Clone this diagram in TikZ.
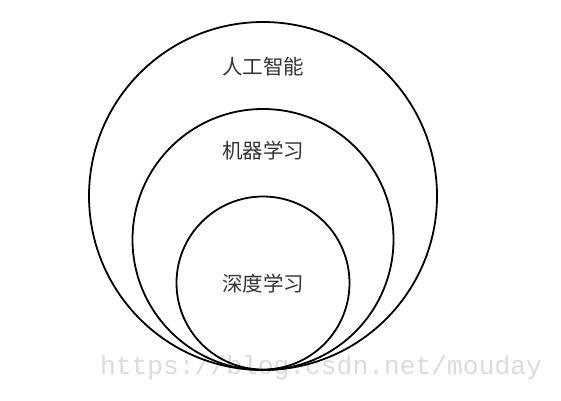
\documentclass[tikz,border=0pt]{standalone}
\usepackage{fontspec}
\newfontfamily\cjk{Noto Sans CJK SC}
\setmonofont{Liberation Mono}
\tikzset{
  ring/.style={draw, line width=1.8pt},
  area/.style={text=black!80, font=\cjk\fontsize{20.5}{20.5}\selectfont},
  watermark/.style={text=black!14, font=\ttfamily\fontsize{26.3}{26.3}\selectfont}
}
\begin{document}
\begin{tikzpicture}[x=1pt,y=-1pt]
\useasboundingbox (0,0) rectangle (561,400);

\node[watermark] (url) at (321,368) {https://blog.csdn.net/mouday};

\draw[ring] (263,196) circle [radius=174pt];
\draw[ring] (263,239.5) circle [radius=130.5pt];
\draw[ring] (263,283) circle [radius=86.5pt];

\node[area] (ai) at (263,67) {人工智能};
\node[area] (ml) at (263,151) {机器学习};
\node[area] (dl) at (263,284) {深度学习};
\end{tikzpicture}
\end{document}
